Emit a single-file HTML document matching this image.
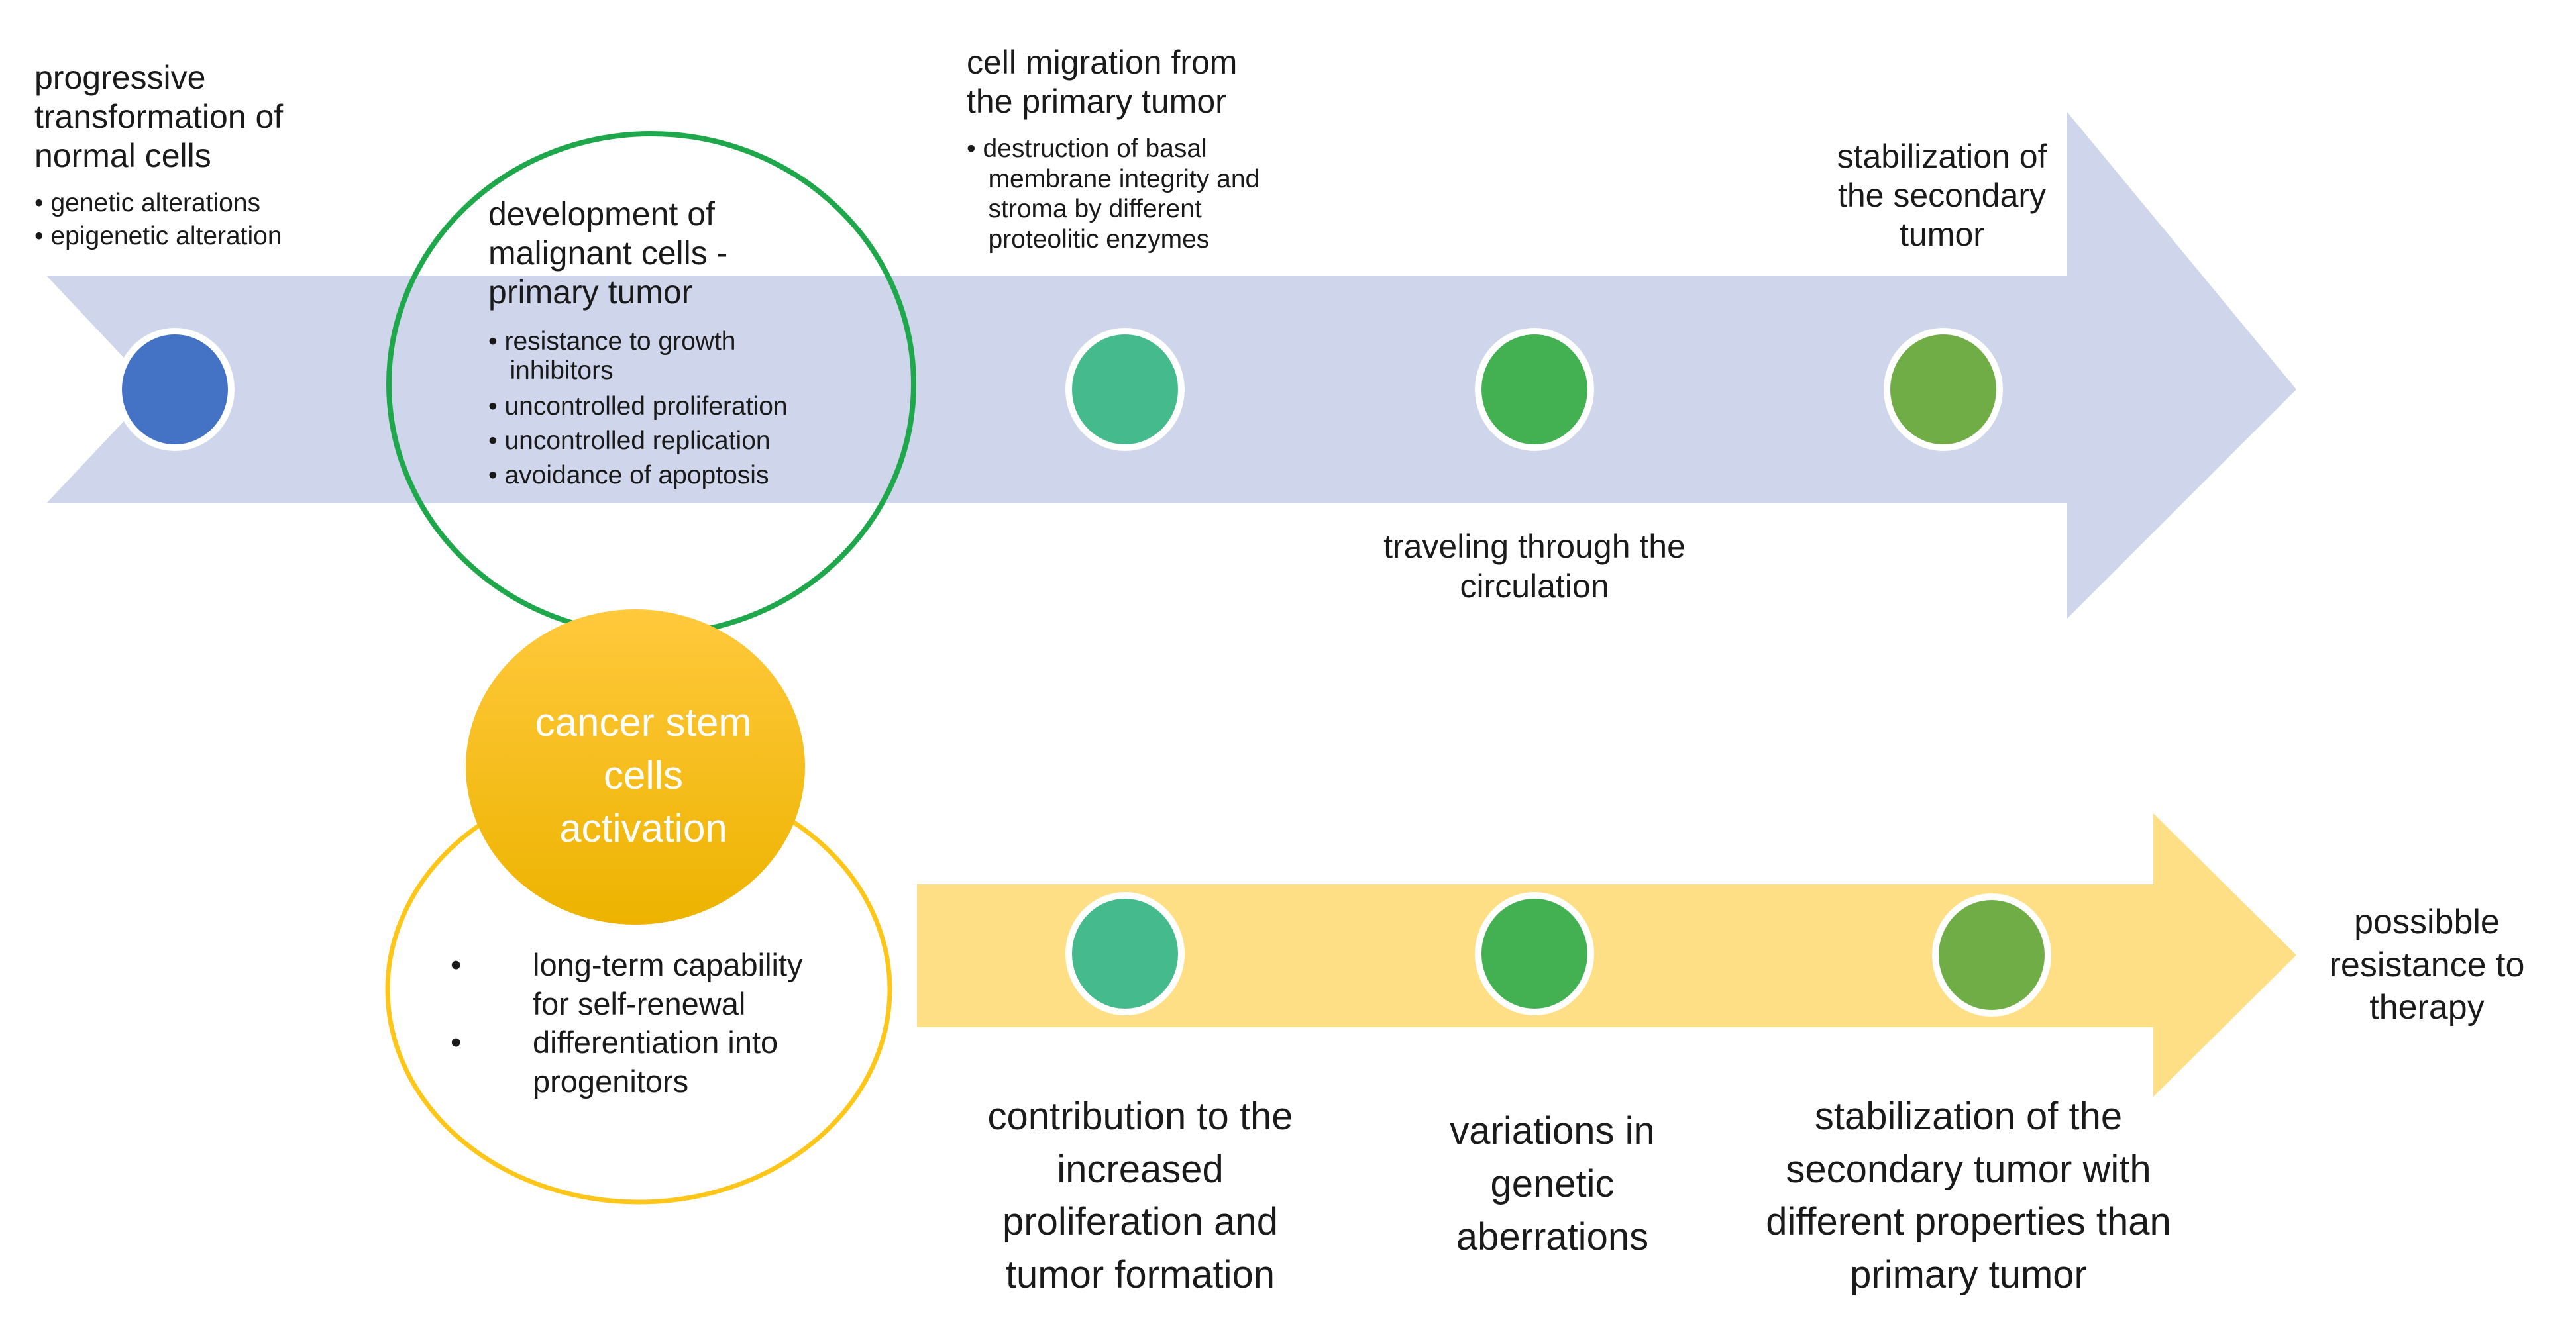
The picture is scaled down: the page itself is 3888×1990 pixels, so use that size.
<!DOCTYPE html>
<html><head><meta charset="utf-8"><style>
html,body{margin:0;padding:0;background:#fff;}
body{width:3888px;height:1990px;position:relative;overflow:hidden;font-family:"Liberation Sans",Arial,sans-serif;color:#1a1a1a;}
svg{position:absolute;left:0;top:0;}
.t{position:absolute;white-space:nowrap;}
.c{text-align:center;}
ul{margin:0;padding:0;list-style:none;}
</style></head><body>
<svg width="3888" height="1990" viewBox="0 0 3888 1990">
<defs>
<linearGradient id="yg" x1="0" y1="0" x2="0" y2="1">
<stop offset="0" stop-color="#FFC93C"/><stop offset="1" stop-color="#EDB300"/></linearGradient>
</defs>
<polygon points="70,416 3120,416 3120,169 3466,588 3120,934 3120,760 70,760 232,588" fill="#CFD5EA"/>
<polygon points="1384,1335 3250,1335 3250,1228 3466,1442 3250,1656 3250,1551 1384,1551" fill="#FFDF85"/>
<ellipse cx="983" cy="580" rx="396" ry="378" fill="none" stroke="#1FA74B" stroke-width="8"/>
<ellipse cx="964" cy="1494" rx="379" ry="321" fill="none" stroke="#FFC61A" stroke-width="7"/>
<ellipse cx="959" cy="1158" rx="256" ry="238" fill="url(#yg)"/>
<g stroke="#fff" stroke-width="10">
<ellipse cx="264" cy="588" rx="85" ry="88" fill="#4472C4"/>
<ellipse cx="1698" cy="588" rx="85" ry="88" fill="#45BA8C"/>
<ellipse cx="2316" cy="588" rx="85" ry="88" fill="#43B151"/>
<ellipse cx="2933" cy="588" rx="85" ry="88" fill="#70AD47"/>
<ellipse cx="1698" cy="1440" rx="85" ry="88" fill="#45BA8C"/>
<ellipse cx="2316" cy="1440" rx="85" ry="88" fill="#43B151"/>
<ellipse cx="3006" cy="1442" rx="85" ry="88" fill="#70AD47"/>
</g>
</svg>

<div class="t" style="left:52px;top:88px;font-size:50px;line-height:59px;">progressive<br>transformation of<br>normal cells</div>
<div class="t" style="left:52px;top:282px;font-size:39px;line-height:50px;">• genetic alterations<br>• epigenetic alteration</div>

<div class="t" style="left:737px;top:294px;font-size:50px;line-height:59px;">development of<br>malignant cells -<br>primary tumor</div>
<div class="t" style="left:737px;top:494px;font-size:39px;line-height:44px;">• resistance to growth<br>&nbsp;&nbsp;&nbsp;inhibitors</div>
<div class="t" style="left:737px;top:588px;font-size:39px;line-height:52px;">• uncontrolled proliferation<br>• uncontrolled replication<br>• avoidance of apoptosis</div>

<div class="t" style="left:1459px;top:65px;font-size:50px;line-height:59px;">cell migration from<br>the primary tumor</div>
<div class="t" style="left:1459px;top:202px;font-size:39px;line-height:45.5px;">• destruction of basal<br>&nbsp;&nbsp;&nbsp;membrane integrity and<br>&nbsp;&nbsp;&nbsp;stroma by different<br>&nbsp;&nbsp;&nbsp;proteolitic enzymes</div>

<div class="t c" style="left:2631px;width:600px;top:207px;font-size:50px;line-height:59px;">stabilization of<br>the secondary<br>tumor</div>
<div class="t c" style="left:1966px;width:700px;top:795px;font-size:50px;line-height:60px;">traveling through the<br>circulation</div>

<div class="t c" style="left:721px;width:500px;top:1051px;font-size:60px;line-height:80px;color:#fff;">cancer stem<br>cells<br>activation</div>

<div class="t" style="left:680px;top:1428px;font-size:47px;line-height:58.5px;">•<br><br>•</div>
<div class="t" style="left:804px;top:1428px;font-size:47px;line-height:58.5px;">long-term capability<br>for self-renewal<br>differentiation into<br>progenitors</div>

<div class="t c" style="left:1371px;width:700px;top:1646px;font-size:58px;line-height:79.5px;">contribution to the<br>increased<br>proliferation and<br>tumor formation</div>
<div class="t c" style="left:2043px;width:600px;top:1668px;font-size:58px;line-height:80px;">variations in<br>genetic<br>aberrations</div>
<div class="t c" style="left:2571px;width:800px;top:1646px;font-size:58px;line-height:79.5px;">stabilization of the<br>secondary tumor with<br>different properties than<br>primary tumor</div>
<div class="t c" style="left:3413px;width:500px;top:1360px;font-size:52px;line-height:64.5px;">possibble<br>resistance to<br>therapy</div>
</body></html>
